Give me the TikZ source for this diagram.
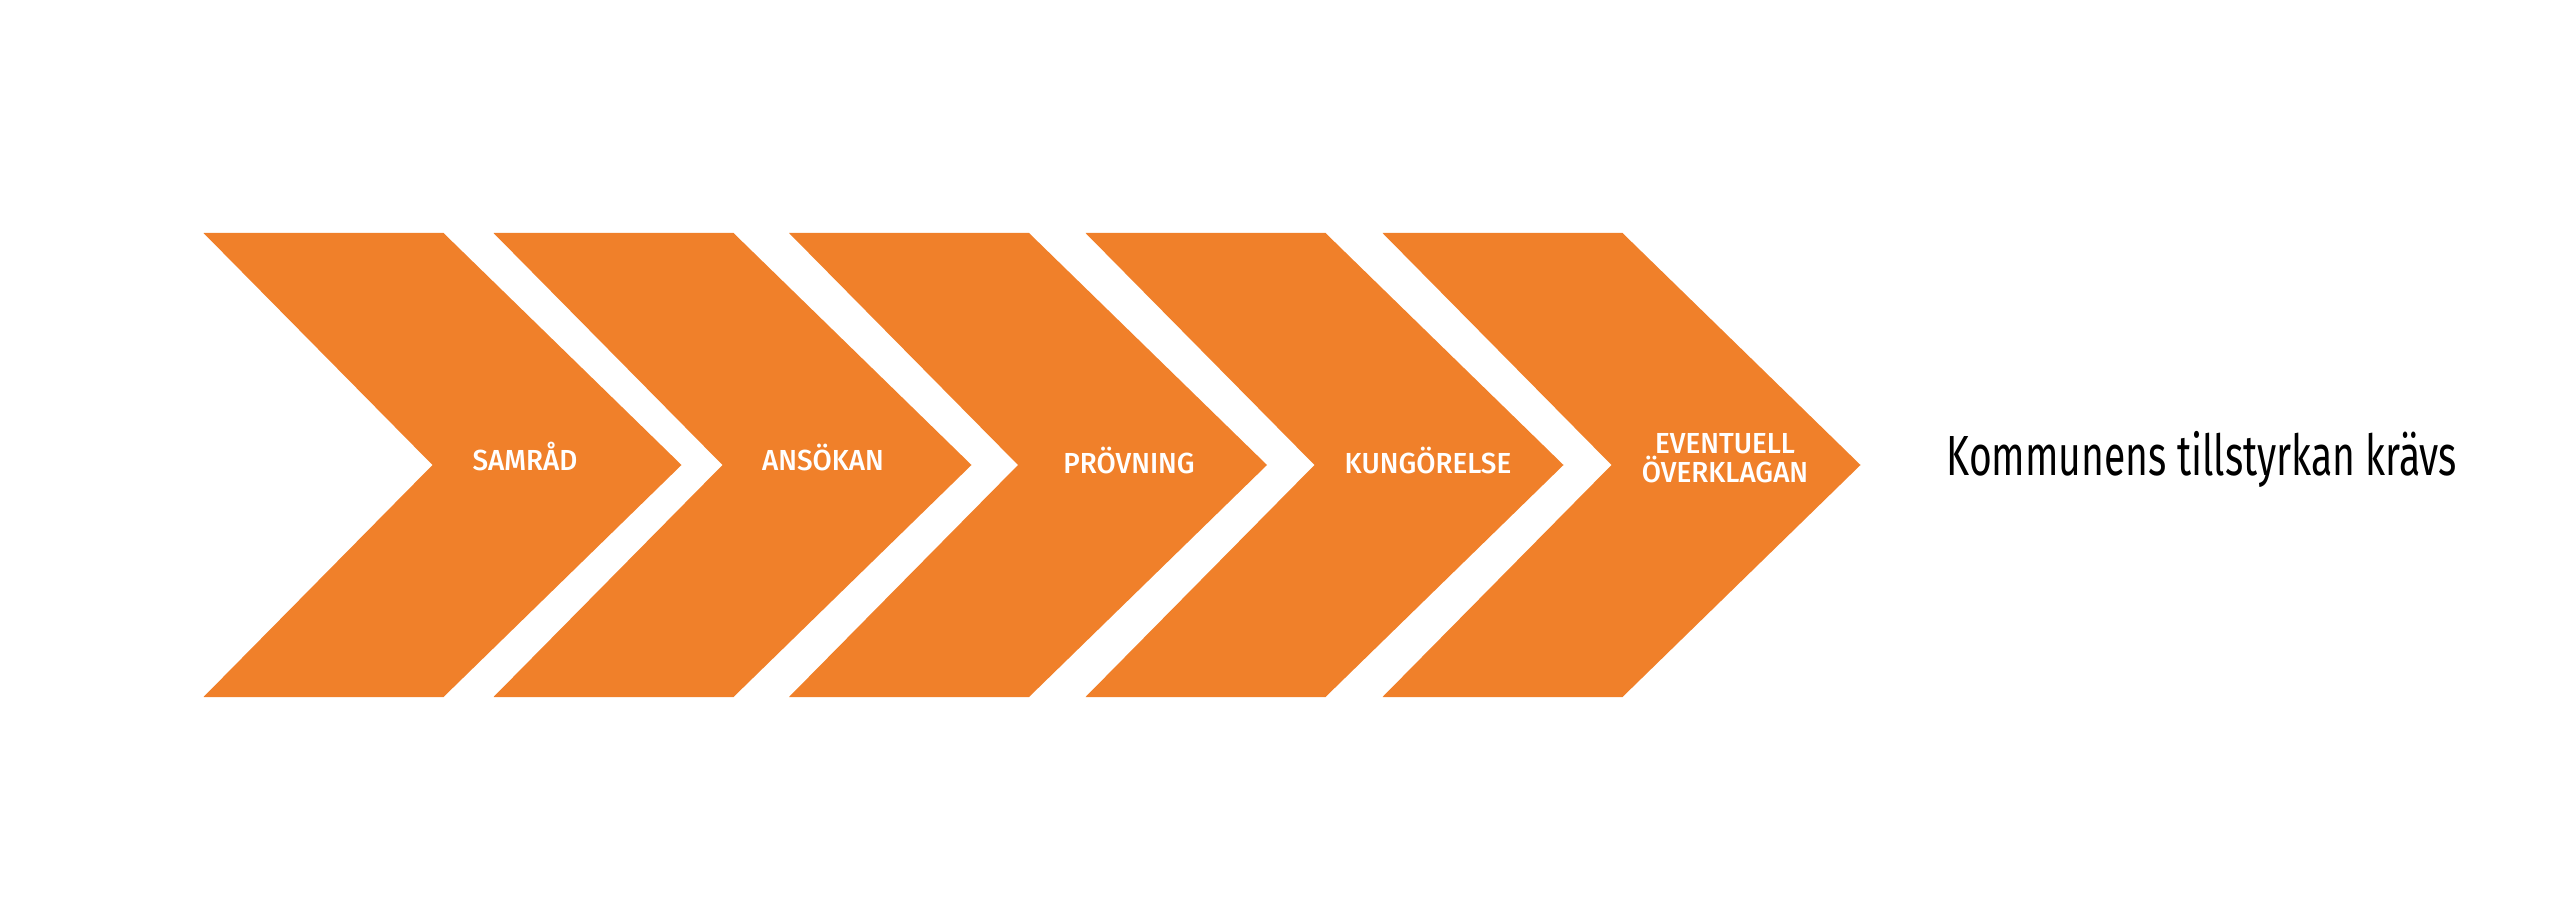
\documentclass[tikz,border=0pt]{standalone}
\usepackage{fontspec}
\setmainfont{Fira Sans}
\newfontfamily\stepfont[FakeStretch=0.96]{Fira Sans Medium}
\newfontfamily\notefont[FakeStretch=0.69]{Fira Sans}
\definecolor{chevron}{HTML}{F0802A}
\begin{document}
\begin{tikzpicture}[x=0.1mm,y=-0.1mm,
    steplabel/.style={inner sep=0pt,text=white,font=\stepfont\fontsize{8.25pt}{8.22pt}\selectfont},
    notelabel/.style={inner sep=0pt,text=black,font=\notefont\fontsize{16.1pt}{19pt}\selectfont}]
    \useasboundingbox (0,0) rectangle (2560,903);
    % chevrons
    \foreach \l in {203.5,493.5,789,1085.5,1382.5}
        \fill[chevron] (\l,233) -- (\l+240,233) -- (\l+478,465) -- (\l+240,697)
            -- (\l,697) -- (\l+229,465) -- cycle;
    % steps
    \node[steplabel,anchor=base] (samrad) at (525,470) {SAMRÅD};
    \node[steplabel,anchor=base] (ansokan) at (823,470) {ANSÖKAN};
    \node[steplabel,anchor=base] (provning) at (1129,474) {PRÖVNING};
    \node[steplabel,anchor=base] (kungorelse) at (1428,474) {KUNGÖRELSE};
    \node[steplabel,anchor=north,align=center] (overklagan) at (1725,433) {EVENTUELL\\ÖVERKLAGAN};
    \node[notelabel,anchor=base west] (tillstyrkan) at (1946,476) {Kommunens tillstyrkan krävs};
\end{tikzpicture}
\end{document}
